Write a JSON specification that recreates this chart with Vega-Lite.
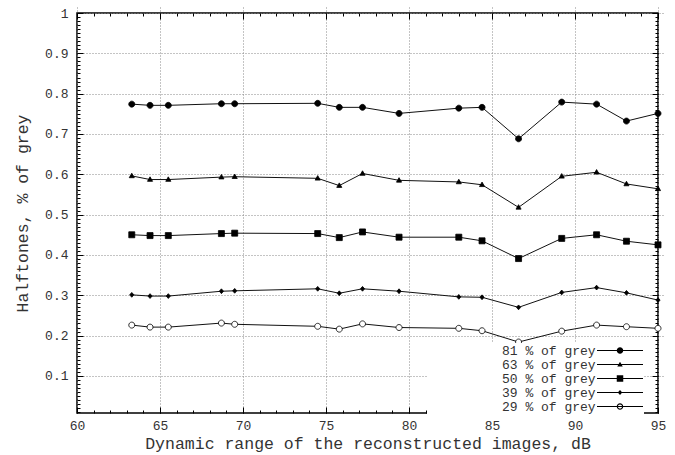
{
  "$schema": "https://vega.github.io/schema/vega-lite/v6.json",
  "width": 581,
  "height": 400,
  "autosize": {"type": "none"},
  "padding": {"left": 77, "top": 13, "right": 17, "bottom": 42},
  "background": "white",
  "config": {
    "font": "Liberation Mono",
    "view": {"stroke": "black", "strokeWidth": 1.5},
    "axis": {
      "labelFont": "Liberation Mono",
      "labelFontSize": 13,
      "labelColor": "#333",
      "titleFont": "Liberation Mono",
      "titleFontSize": 16.5,
      "titleFontWeight": "normal",
      "titleColor": "#333",
      "domain": false,
      "ticks": true,
      "tickColor": "black",
      "tickWidth": 1,
      "tickSize": 6,
      "offset": -6,
      "gridColor": "#888",
      "gridDash": [1, 2],
      "gridWidth": 1,
      "labelOverlap": false,
      "labelFlush": false
    }
  },
  "data": {
    "values": [
      {"series": "81 % of grey", "x": 63.3, "y": 0.774},
      {"series": "81 % of grey", "x": 64.4, "y": 0.771},
      {"series": "81 % of grey", "x": 65.5, "y": 0.771},
      {"series": "81 % of grey", "x": 68.7, "y": 0.775},
      {"series": "81 % of grey", "x": 69.5, "y": 0.775},
      {"series": "81 % of grey", "x": 74.5, "y": 0.776},
      {"series": "81 % of grey", "x": 75.8, "y": 0.766},
      {"series": "81 % of grey", "x": 77.2, "y": 0.766},
      {"series": "81 % of grey", "x": 79.4, "y": 0.751},
      {"series": "81 % of grey", "x": 83.0, "y": 0.764},
      {"series": "81 % of grey", "x": 84.4, "y": 0.766},
      {"series": "81 % of grey", "x": 86.6, "y": 0.688},
      {"series": "81 % of grey", "x": 89.2, "y": 0.779},
      {"series": "81 % of grey", "x": 91.3, "y": 0.774},
      {"series": "81 % of grey", "x": 93.1, "y": 0.732},
      {"series": "81 % of grey", "x": 95.0, "y": 0.751},
      {"series": "63 % of grey", "x": 63.3, "y": 0.596},
      {"series": "63 % of grey", "x": 64.4, "y": 0.587},
      {"series": "63 % of grey", "x": 65.5, "y": 0.587},
      {"series": "63 % of grey", "x": 68.7, "y": 0.593},
      {"series": "63 % of grey", "x": 69.5, "y": 0.594},
      {"series": "63 % of grey", "x": 74.5, "y": 0.590},
      {"series": "63 % of grey", "x": 75.8, "y": 0.572},
      {"series": "63 % of grey", "x": 77.2, "y": 0.602},
      {"series": "63 % of grey", "x": 79.4, "y": 0.585},
      {"series": "63 % of grey", "x": 83.0, "y": 0.581},
      {"series": "63 % of grey", "x": 84.4, "y": 0.574},
      {"series": "63 % of grey", "x": 86.6, "y": 0.518},
      {"series": "63 % of grey", "x": 89.2, "y": 0.595},
      {"series": "63 % of grey", "x": 91.3, "y": 0.605},
      {"series": "63 % of grey", "x": 93.1, "y": 0.576},
      {"series": "63 % of grey", "x": 95.0, "y": 0.564},
      {"series": "50 % of grey", "x": 63.3, "y": 0.450},
      {"series": "50 % of grey", "x": 64.4, "y": 0.448},
      {"series": "50 % of grey", "x": 65.5, "y": 0.448},
      {"series": "50 % of grey", "x": 68.7, "y": 0.453},
      {"series": "50 % of grey", "x": 69.5, "y": 0.454},
      {"series": "50 % of grey", "x": 74.5, "y": 0.453},
      {"series": "50 % of grey", "x": 75.8, "y": 0.443},
      {"series": "50 % of grey", "x": 77.2, "y": 0.457},
      {"series": "50 % of grey", "x": 79.4, "y": 0.444},
      {"series": "50 % of grey", "x": 83.0, "y": 0.444},
      {"series": "50 % of grey", "x": 84.4, "y": 0.435},
      {"series": "50 % of grey", "x": 86.6, "y": 0.391},
      {"series": "50 % of grey", "x": 89.2, "y": 0.441},
      {"series": "50 % of grey", "x": 91.3, "y": 0.450},
      {"series": "50 % of grey", "x": 93.1, "y": 0.434},
      {"series": "50 % of grey", "x": 95.0, "y": 0.425},
      {"series": "39 % of grey", "x": 63.3, "y": 0.301},
      {"series": "39 % of grey", "x": 64.4, "y": 0.298},
      {"series": "39 % of grey", "x": 65.5, "y": 0.298},
      {"series": "39 % of grey", "x": 68.7, "y": 0.310},
      {"series": "39 % of grey", "x": 69.5, "y": 0.311},
      {"series": "39 % of grey", "x": 74.5, "y": 0.316},
      {"series": "39 % of grey", "x": 75.8, "y": 0.305},
      {"series": "39 % of grey", "x": 77.2, "y": 0.316},
      {"series": "39 % of grey", "x": 79.4, "y": 0.310},
      {"series": "39 % of grey", "x": 83.0, "y": 0.296},
      {"series": "39 % of grey", "x": 84.4, "y": 0.295},
      {"series": "39 % of grey", "x": 86.6, "y": 0.270},
      {"series": "39 % of grey", "x": 89.2, "y": 0.307},
      {"series": "39 % of grey", "x": 91.3, "y": 0.319},
      {"series": "39 % of grey", "x": 93.1, "y": 0.306},
      {"series": "39 % of grey", "x": 95.0, "y": 0.288},
      {"series": "29 % of grey", "x": 63.3, "y": 0.226},
      {"series": "29 % of grey", "x": 64.4, "y": 0.221},
      {"series": "29 % of grey", "x": 65.5, "y": 0.221},
      {"series": "29 % of grey", "x": 68.7, "y": 0.231},
      {"series": "29 % of grey", "x": 69.5, "y": 0.228},
      {"series": "29 % of grey", "x": 74.5, "y": 0.223},
      {"series": "29 % of grey", "x": 75.8, "y": 0.216},
      {"series": "29 % of grey", "x": 77.2, "y": 0.229},
      {"series": "29 % of grey", "x": 79.4, "y": 0.220},
      {"series": "29 % of grey", "x": 83.0, "y": 0.218},
      {"series": "29 % of grey", "x": 84.4, "y": 0.212},
      {"series": "29 % of grey", "x": 86.6, "y": 0.184},
      {"series": "29 % of grey", "x": 89.2, "y": 0.211},
      {"series": "29 % of grey", "x": 91.3, "y": 0.226},
      {"series": "29 % of grey", "x": 93.1, "y": 0.222},
      {"series": "29 % of grey", "x": 95.0, "y": 0.218}
    ]
  },
  "layer": [
    {
      "mark": {"type": "line", "color": "#111", "strokeWidth": 1},
      "encoding": {
        "x": {
          "field": "x", "type": "quantitative",
          "scale": {"domain": [60, 95], "nice": false, "zero": false},
          "axis": {
            "orient": "bottom",
            "values": [60, 65, 70, 75, 80, 85, 90, 95],
            "format": "d",
            "labelPadding": 6,
            "grid": true,
            "title": "Dynamic range of the reconstructed images, dB",
            "titlePadding": 3
          }
        },
        "y": {
          "field": "y", "type": "quantitative",
          "scale": {"domain": [0.008, 1], "nice": false, "zero": false},
          "axis": {
            "orient": "left",
            "values": [0.1, 0.2, 0.3, 0.4, 0.5, 0.6, 0.7, 0.8, 0.9, 1],
            "format": ".1~f",
            "labelPadding": 9,
            "grid": true,
            "title": "Halftones, % of grey",
            "titlePadding": 14
          }
        },
        "detail": {"field": "series", "type": "nominal"}
      }
    },
    {
      "mark": {"type": "point", "filled": true, "size": 36, "stroke": "black", "strokeWidth": 0.8, "opacity": 1},
      "encoding": {
        "x": {
          "field": "x", "type": "quantitative",
          "scale": {"domain": [60, 95], "nice": false, "zero": false},
          "axis": {
            "orient": "top",
            "values": [60, 65, 70, 75, 80, 85, 90, 95],
            "labels": false,
            "grid": false,
            "title": null
          }
        },
        "y": {
          "field": "y", "type": "quantitative",
          "scale": {"domain": [0.008, 1], "nice": false, "zero": false},
          "axis": {
            "orient": "right",
            "values": [0.1, 0.2, 0.3, 0.4, 0.5, 0.6, 0.7, 0.8, 0.9, 1],
            "labels": false,
            "grid": false,
            "title": null
          }
        },
        "shape": {
          "field": "series", "type": "nominal",
          "scale": {
            "domain": ["81 % of grey", "63 % of grey", "50 % of grey", "39 % of grey", "29 % of grey"],
            "range": [
              "M1,0A1,1,0,1,1,-1,0A1,1,0,1,1,1,0Z",
              "M0,-0.9L0.85,0.6L-0.85,0.6Z",
              "M-1,-1H1V1H-1Z",
              "M0,-0.8L0.7,0L0,0.8L-0.7,0Z",
              "M1,0A1,1,0,1,1,-1,0A1,1,0,1,1,1,0Z"
            ]
          },
          "legend": null
        },
        "fill": {
          "condition": {"test": "datum.series === '29 % of grey'", "value": "white"},
          "value": "black"
        }
      }
    },
    {
      "transform": [{"filter": "datum.x > 1000"}],
      "mark": {"type": "point", "filled": true, "size": 100, "color": "black"},
      "encoding": {
        "x": {
          "field": "x", "type": "quantitative",
          "scale": {"domain": [60, 95], "nice": false, "zero": false},
          "axis": {
            "orient": "bottom",
            "values": [60,61,62,63,64,65,66,67,68,69,70,71,72,73,74,75,76,77,78,79,80,81,82,83,84,85,86,87,88,89,90,91,92,93,94,95],
            "labels": false,
            "grid": false,
            "title": null,
            "tickSize": 3,
            "offset": -3
          }
        },
        "y": {
          "field": "y", "type": "quantitative",
          "scale": {"domain": [0.008, 1], "nice": false, "zero": false},
          "axis": {
            "orient": "left",
            "values": [0.01,0.02,0.03,0.04,0.05,0.06,0.07,0.08,0.09,0.1,0.11,0.12,0.13,0.14,0.15,0.16,0.17,0.18,0.19,0.2,0.21,0.22,0.23,0.24,0.25,0.26,0.27,0.28,0.29,0.3,0.31,0.32,0.33,0.34,0.35,0.36,0.37,0.38,0.39,0.4,0.41,0.42,0.43,0.44,0.45,0.46,0.47,0.48,0.49,0.5,0.51,0.52,0.53,0.54,0.55,0.56,0.57,0.58,0.59,0.6,0.61,0.62,0.63,0.64,0.65,0.66,0.67,0.68,0.69,0.7,0.71,0.72,0.73,0.74,0.75,0.76,0.77,0.78,0.79,0.8,0.81,0.82,0.83,0.84,0.85,0.86,0.87,0.88,0.89,0.9,0.91,0.92,0.93,0.94,0.95,0.96,0.97,0.98,0.99,1],
            "labels": false,
            "grid": false,
            "title": null,
            "tickSize": 3,
            "offset": -3
          }
        },
        "shape": {
          "field": "series", "type": "nominal",
          "scale": {
            "domain": ["81 % of grey", "63 % of grey", "50 % of grey", "39 % of grey", "29 % of grey"],
            "range": [
              "M32.5,-0.12H41.7V0.12H32.5ZM37.75,0A0.65,0.65,0,1,1,36.45,0A0.65,0.65,0,1,1,37.75,0Z",
              "M32.5,-0.12H41.7V0.12H32.5ZM37.1,-0.55L37.65,0.4L36.55,0.4Z",
              "M32.5,-0.12H41.7V0.12H32.5ZM36.45,-0.65H37.75V0.65H36.45Z",
              "M32.5,-0.12H41.7V0.12H32.5ZM37.1,-0.5L37.55,0L37.1,0.5L36.65,0Z",
              "M32.5,-0.12H41.7V0.12H32.5ZM37.75,0A0.65,0.65,0,1,1,36.45,0A0.65,0.65,0,1,1,37.75,0ZM37.52,0A0.42,0.42,0,1,0,36.68,0A0.42,0.42,0,1,0,37.52,0Z"
            ]
          },
          "legend": {
            "title": null,
            "orient": "none",
            "legendX": 350,
            "legendY": 330,
            "fillColor": "white",
            "padding": 1,
            "labelFont": "Liberation Mono",
            "labelFontSize": 13,
            "labelColor": "#333",
            "labelAlign": "left",
            "labelOffset": 61,
            "symbolSize": 100,
            "symbolFillColor": "black",
            "symbolStrokeColor": "black",
            "symbolStrokeWidth": 0,
            "symbolOpacity": 1,
            "rowPadding": 0
          }
        }
      }
    },
    {
      "transform": [{"filter": "datum.x > 1000"}],
      "mark": {"type": "point", "size": 1},
      "encoding": {
        "x": {
          "field": "x", "type": "quantitative",
          "scale": {"domain": [60, 95], "nice": false, "zero": false},
          "axis": {
            "orient": "top",
            "values": [60,61,62,63,64,65,66,67,68,69,70,71,72,73,74,75,76,77,78,79,80,81,82,83,84,85,86,87,88,89,90,91,92,93,94,95],
            "labels": false,
            "grid": false,
            "title": null,
            "tickSize": 3,
            "offset": -3
          }
        },
        "y": {
          "field": "y", "type": "quantitative",
          "scale": {"domain": [0.008, 1], "nice": false, "zero": false},
          "axis": {
            "orient": "right",
            "values": [0.01,0.02,0.03,0.04,0.05,0.06,0.07,0.08,0.09,0.1,0.11,0.12,0.13,0.14,0.15,0.16,0.17,0.18,0.19,0.2,0.21,0.22,0.23,0.24,0.25,0.26,0.27,0.28,0.29,0.3,0.31,0.32,0.33,0.34,0.35,0.36,0.37,0.38,0.39,0.4,0.41,0.42,0.43,0.44,0.45,0.46,0.47,0.48,0.49,0.5,0.51,0.52,0.53,0.54,0.55,0.56,0.57,0.58,0.59,0.6,0.61,0.62,0.63,0.64,0.65,0.66,0.67,0.68,0.69,0.7,0.71,0.72,0.73,0.74,0.75,0.76,0.77,0.78,0.79,0.8,0.81,0.82,0.83,0.84,0.85,0.86,0.87,0.88,0.89,0.9,0.91,0.92,0.93,0.94,0.95,0.96,0.97,0.98,0.99,1],
            "labels": false,
            "grid": false,
            "title": null,
            "tickSize": 3,
            "offset": -3
          }
        }
      }
    }
  ],
  "resolve": {
    "axis": {"x": "independent", "y": "independent"},
    "scale": {"shape": "independent"}
  }
}
